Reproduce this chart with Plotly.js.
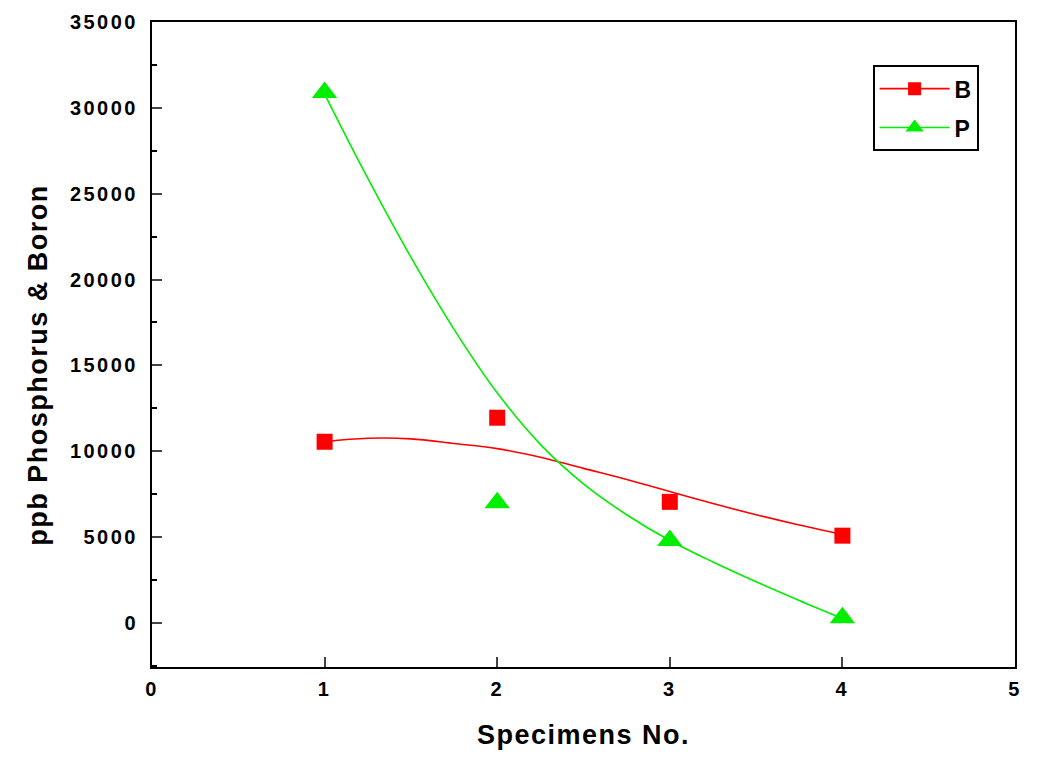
<!DOCTYPE html>
<html>
<head>
<meta charset="utf-8">
<script src="https://cdn.plot.ly/plotly-3.0.1.min.js"></script>
<style>
  body { margin: 0; background: #fff; }
  #chart { width: 1037px; height: 767px; }
  /* the original uses loosely spaced bold type */
  #chart .xtick text, #chart .ytick text { letter-spacing: 2.5px; }
  #chart .xtitle, #chart .annotation-text { letter-spacing: 1.5px; }
  #chart .legendtext { letter-spacing: 1px; }
</style>
</head>
<body>
<div id="chart"></div>
<script>
// measured points
var specimens = [1, 2, 3, 4];
var boron = [10550, 11950, 7050, 5080];
var phosphorus = [30900, 7000, 4800, 300];

// fitted curves
var fitX = [1, 1.25, 1.5, 1.75, 2, 2.25, 2.5, 2.75, 3, 3.25, 3.5, 3.75, 4];
var fitB = [10550, 10750, 10720, 10450, 10150, 9650, 9000, 8350, 7650, 6950, 6300, 5700, 5150];
var fitP = [30800, 25900, 21300, 17100, 13400, 10400, 8100, 6300, 4800, 3550, 2400, 1300, 250];

var RED = '#ff0000';
var GREEN = '#00ee00';
var FONT = 'Liberation Sans, Arial, sans-serif';

var fitLineB = {
  x: fitX, y: fitB, mode: 'lines', type: 'scatter',
  line: {color: RED, width: 1.6, shape: 'spline'},
  showlegend: false, hoverinfo: 'skip'
};
var fitLineP = {
  x: fitX, y: fitP, mode: 'lines', type: 'scatter',
  line: {color: GREEN, width: 1.6, shape: 'spline'},
  showlegend: false, hoverinfo: 'skip'
};
var ptsB = {
  x: specimens, y: boron, mode: 'markers', type: 'scatter', name: 'B',
  marker: {symbol: 'square', size: 16, color: RED},
  showlegend: false
};
var ptsP = {
  x: specimens, y: phosphorus, mode: 'markers', type: 'scatter', name: 'P',
  marker: {symbol: 'triangle-up', size: 22, color: GREEN},
  showlegend: false
};
// legend entries only
var legB = {
  x: [null], y: [null], mode: 'lines+markers', type: 'scatter', name: 'B',
  legendgroup: 'b',
  line: {color: RED, width: 1.6},
  marker: {symbol: 'square', size: 13, color: RED}
};
var legP = {
  x: [null], y: [null], mode: 'lines+markers', type: 'scatter', name: 'P',
  legendgroup: 'p',
  line: {color: GREEN, width: 1.6},
  marker: {symbol: 'triangle-up', size: 16, color: GREEN}
};

var data = [fitLineB, fitLineP, ptsB, ptsP, legB, legP];

var layout = {
  width: 1037,
  height: 767,
  margin: {l: 152, r: 22, t: 22, b: 100},
  paper_bgcolor: '#fff',
  plot_bgcolor: '#fff',
  font: {family: FONT, color: '#000'},
  xaxis: {
    range: [0, 5],
    dtick: 1,
    ticks: 'inside',
    ticklen: 10,
    tickwidth: 2,
    showline: true,
    linewidth: 2,
    linecolor: '#000',
    mirror: true,
    showgrid: false,
    zeroline: false,
    tickfont: {family: FONT, size: 20, weight: 'bold'},
    ticklabelstandoff: 3,
    title: {text: 'Specimens No.', font: {family: FONT, size: 27, weight: 'bold'}, standoff: 26}
  },
  yaxis: {
    range: [-2570, 35000],
    dtick: 5000,
    tick0: 0,
    ticks: 'inside',
    ticklen: 10,
    tickwidth: 2,
    minor: {dtick: 2500, ticks: 'inside', ticklen: 5, tickwidth: 2, tickcolor: '#000'},
    showline: true,
    linewidth: 2,
    linecolor: '#000',
    mirror: true,
    showgrid: false,
    zeroline: false,
    tickformat: 'd',
    tickfont: {family: FONT, size: 20, weight: 'bold'},
    ticklabelstandoff: 8
  },
  // y title sits a little below centre in the original, so it is placed by hand
  annotations: [{
    text: 'ppb Phosphorus & Boron',
    xref: 'paper', yref: 'paper',
    x: -0.132, y: 0.468,
    xanchor: 'center', yanchor: 'middle',
    textangle: -90,
    showarrow: false,
    font: {family: FONT, size: 27, weight: 'bold', color: '#000'}
  }],
  showlegend: true,
  legend: {
    x: 0.835, y: 0.933,
    xanchor: 'left', yanchor: 'top',
    bgcolor: '#fff',
    bordercolor: '#000',
    borderwidth: 2,
    itemwidth: 70,
    tracegroupgap: 6,
    font: {family: FONT, size: 23, weight: 'bold'}
  }
};

Plotly.newPlot('chart', data, layout, {displayModeBar: false});
</script>
</body>
</html>
